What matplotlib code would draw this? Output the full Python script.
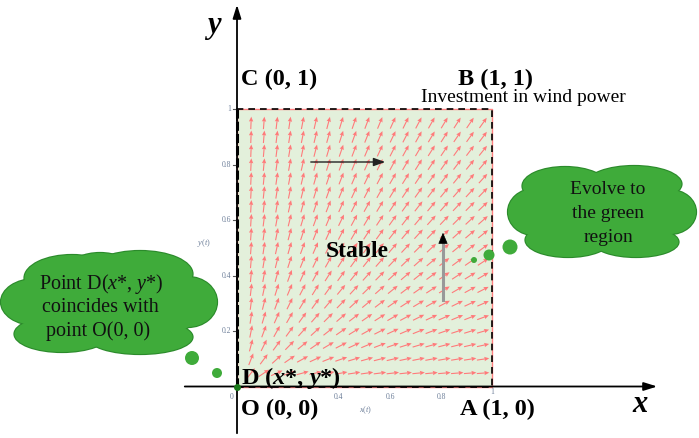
import numpy as np
import matplotlib
matplotlib.use("Agg")
import matplotlib.pyplot as plt
from matplotlib.patches import Ellipse, Rectangle

plt.rcParams['font.family'] = ['Liberation Serif', 'DejaVu Serif']
plt.rcParams['mathtext.fontset'] = 'custom'
plt.rcParams['mathtext.rm'] = 'Liberation Serif'
plt.rcParams['mathtext.it'] = 'Liberation Serif:italic'
plt.rcParams['mathtext.bf'] = 'Liberation Serif:italic:bold'

# ---- data ----
tick_values = [0.2, 0.4, 0.6, 0.8, 1.0]
tick_labels = ["0.2", "0.4", "0.6", "0.8", "1"]
grid_x = np.linspace(0.055, 0.965, 19)
grid_y = np.linspace(0.05, 0.95, 19)
field_kx = 1.0   # dx/dt ~ kx * x
field_ky = 1.3   # dy/dt ~ ky * y
corner_labels = ["O (0, 0)", "A (1, 0)", "B (1, 1)", "C (0, 1)"]

# ---- layout helpers (pixel -> data) ----
def X(px):
    return (px - 237) / 255.0

def Y(py):
    return (387 - py) / 278.0

def W(pw):
    return pw / 255.0

def H(ph):
    return ph / 278.0

fig = plt.figure(figsize=(6.99, 4.38), dpi=100)
ax = fig.add_axes([0, 0, 1, 1])
ax.set_xlim(X(0), X(699))
ax.set_ylim(Y(438), Y(0))
ax.axis('off')

# green region
ax.add_patch(Rectangle((0, 0), 1, 1, facecolor='#e3f0db', edgecolor='none', zorder=1))
# dashed border (red under black dashes)
bx = [0, 1, 1, 0, 0]
by = [0, 0, 1, 1, 0]
ax.plot(bx, by, color='#ff8080', lw=1.0, zorder=2)
ax.plot(bx, by, color='black', lw=1.2, ls=(0, (4, 3)), zorder=3)

# direction field
GX, GY = np.meshgrid(grid_x, grid_y)
U = field_kx * GX * 255.0
V = field_ky * GY * 278.0
N = np.hypot(U, V)
L = 12.5
ax.quiver(GX, GY, U / N * L, V / N * L, angles='uv', scale_units='dots', scale=1,
          units='dots', width=1.1, headwidth=4, headlength=4.5, headaxislength=4,
          pivot='middle', color='#ff7a7a', zorder=4)

# main axes with arrows
ax.annotate('', xy=(X(237), Y(2)), xytext=(X(237), Y(436)),
            arrowprops=dict(arrowstyle='-|>,head_length=0.8,head_width=0.25', color='black', lw=1.3),
            zorder=6)
ax.annotate('', xy=(X(660), Y(386.5)), xytext=(X(182), Y(386.5)),
            arrowprops=dict(arrowstyle='-|>,head_length=0.8,head_width=0.25', color='black', lw=1.3),
            zorder=6)
ax.plot([0, 0], [0, 1], color='black', lw=2.2, ls=(0, (3, 1)), zorder=5)
ax.plot([0], [0], 'o', color='#1a7a1a', ms=4, zorder=7)

# small tick labels
tick_color = '#6d7f99'
for v, lab in zip(tick_values, tick_labels):
    ax.plot([X(233), 0], [v, v], color='#555555', lw=0.8, zorder=5)
    ax.text(X(231), v, lab, ha='right', va='center', fontsize=5.5, color=tick_color)
    if v == 1.0:
        ax.text(v, Y(392.5), lab, ha='center', va='center', fontsize=5.5, color=tick_color, zorder=9)
    elif v != 0.2:
        ax.text(v, Y(397), lab, ha='center', va='center', fontsize=5.5, color=tick_color)
ax.text(X(232), Y(397), "0", ha='center', va='center', fontsize=5.5, color=tick_color)
ax.text(X(204), Y(243), r"$y(t)$", ha='center', va='center', fontsize=6, color=tick_color)
ax.text(X(366), Y(410), r"$x(t)$", ha='center', va='center', fontsize=6, color=tick_color)

# axis letters
ax.text(X(213), Y(28), r"$\mathbf{y}$", ha='center', va='center', fontsize=22)
ax.text(X(640), Y(404), r"$\mathbf{x}$", ha='center', va='center', fontsize=22)

# corner labels
lab_kw = dict(fontsize=17.5, fontweight='bold', va='baseline', ha='left', zorder=8)
ax.text(X(241), Y(415), corner_labels[0], **lab_kw)
ax.text(X(460), Y(415), corner_labels[1], **lab_kw)
ax.text(X(458), Y(85), corner_labels[2], **lab_kw)
ax.text(X(241), Y(85), corner_labels[3], **lab_kw)
ax.text(X(241), Y(384), r"D ($\mathbf{x}$*, $\mathbf{y}$*)", fontsize=17.5, fontweight='bold',
        va='baseline', ha='left', zorder=8)
ax.text(X(523), Y(102), "Investment in wind power", fontsize=14, ha='center',
        va='baseline', zorder=8)
ax.text(X(357), Y(257), "Stable", fontsize=17, fontweight='bold', ha='center',
        va='baseline', zorder=8)

# black guide arrows
ax.annotate('', xy=(X(388), Y(162)), xytext=(X(308), Y(162)),
            arrowprops=dict(arrowstyle='-|>,head_length=0.7,head_width=0.25', color='#222222', lw=1.0),
            zorder=6)
ax.plot([X(443), X(443)], [Y(300), Y(240)], color='#999999', lw=2.2, zorder=6)
ax.annotate('', xy=(X(443), Y(230)), xytext=(X(443), Y(242)),
            arrowprops=dict(arrowstyle='-|>,head_length=0.7,head_width=0.3', color='black', lw=0.5),
            zorder=7)

# clouds
cloud_fill = '#3fab3a'
cloud_edge = '#2b8a2b'

def cloud(lobes):
    for (cx, cy, w, h) in lobes:
        ax.add_patch(Ellipse((X(cx), Y(cy)), W(w), H(h), facecolor=cloud_fill,
                             edgecolor=cloud_edge, lw=1.6, zorder=9))
    for (cx, cy, w, h) in lobes:
        ax.add_patch(Ellipse((X(cx), Y(cy)), W(w), H(h), facecolor=cloud_fill,
                             edgecolor='none', zorder=9.5))

left_lobes = [(110, 305, 190, 78), (72, 278, 95, 46), (140, 274, 105, 46),
              (35, 302, 68, 46), (188, 302, 58, 50), (62, 334, 95, 36),
              (140, 337, 105, 34), (100, 268, 60, 30)]
right_lobes = [(602, 212, 160, 70), (565, 186, 85, 38), (634, 184, 95, 36),
               (534, 212, 52, 46), (670, 212, 52, 44), (568, 240, 85, 34),
               (636, 242, 85, 30)]
cloud(left_lobes)
cloud(right_lobes)

for (cx, cy, r) in [(192, 358, 7), (217, 373, 5), (474, 260, 3), (489, 255, 5.5), (510, 247, 7.5)]:
    ax.add_patch(Ellipse((X(cx), Y(cy)), W(2 * r), H(2 * r), facecolor=cloud_fill,
                         edgecolor='none', zorder=9))

txt_kw = dict(ha='center', va='center', zorder=10, color='#111111')
ax.text(X(101), Y(284), r"Point D($x$*, $y$*)", fontsize=14.5, **txt_kw)
ax.text(X(100), Y(307), "coincides with", fontsize=14.5, **txt_kw)
ax.text(X(98), Y(331), "point O(0, 0)", fontsize=14.5, **txt_kw)
ax.text(X(608), Y(190), "Evolve to", fontsize=14, **txt_kw)
ax.text(X(608), Y(214), "the green", fontsize=14, **txt_kw)
ax.text(X(608), Y(238), "region", fontsize=14, **txt_kw)

fig.savefig("out.png", dpi=100)
